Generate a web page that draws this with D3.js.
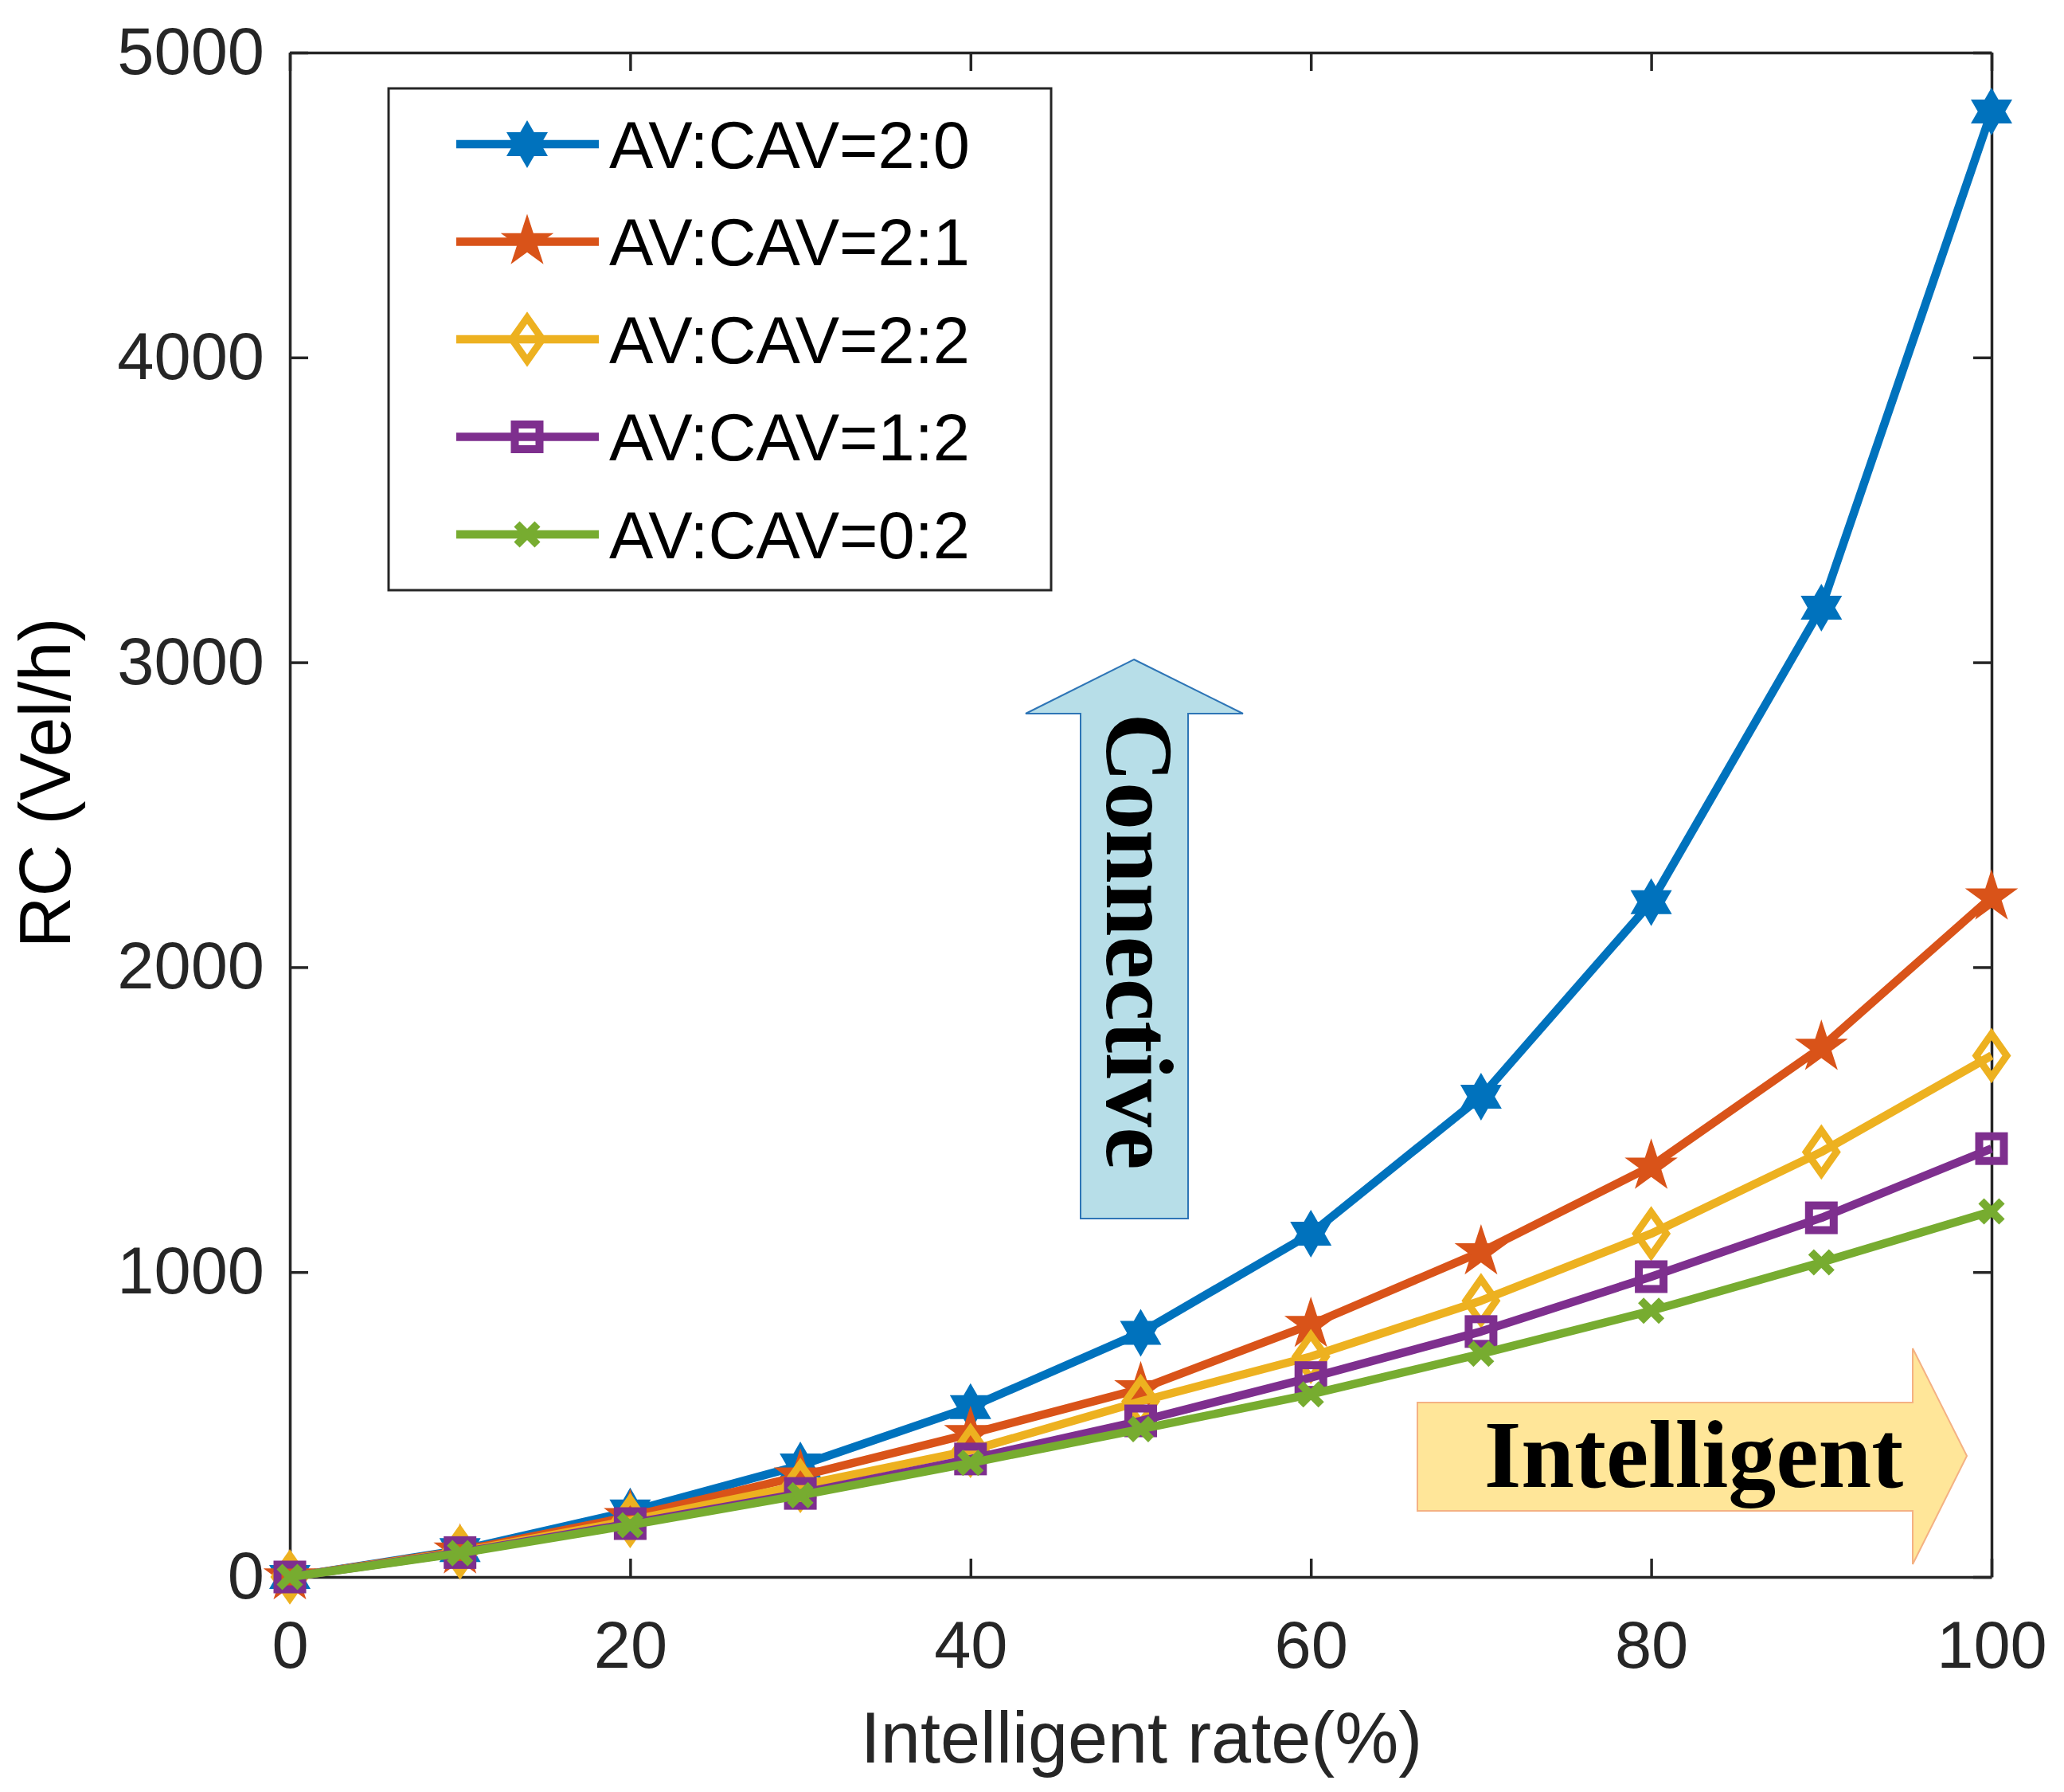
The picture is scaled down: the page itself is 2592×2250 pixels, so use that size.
<!DOCTYPE html>
<html>
<head>
<meta charset="utf-8">
<script src="https://cdn.jsdelivr.net/npm/d3@7"></script>
<style>
  body { margin: 0; background: #fff; }
  svg { display: block; }
</style>
</head>
<body>
<svg id="chart" width="2592" height="2250"></svg>
<script>
// intelligent rate (%)
const rates = [0, 10, 20, 30, 40, 50, 60, 70, 80, 90, 100];

// RC (Vel/h) per AV:CAV ratio
const rc20 = [0, 88, 215, 366, 557, 801, 1126, 1575, 2213, 3179, 4807];
const rc21 = [0, 85, 198, 331, 470, 617, 828, 1066, 1347, 1737, 2230];
const rc22 = [0, 82, 185, 300, 415, 576, 723, 906, 1126, 1394, 1710];
const rc12 = [0, 80, 175, 274, 387, 512, 654, 805, 985, 1178, 1405];
const rc02 = [0, 78, 170, 268, 374, 485, 599, 732, 873, 1032, 1199];

const seriesNames = ["AV:CAV=2:0", "AV:CAV=2:1", "AV:CAV=2:2", "AV:CAV=1:2", "AV:CAV=0:2"];
const xTicks = [0, 20, 40, 60, 80, 100];
const yTicks = [0, 1000, 2000, 3000, 4000, 5000];

const colors = ["#0072BD", "#D95319", "#EDB120", "#7E2F8E", "#77AC30"];
const markers = ["hexagram", "pentagram", "diamond", "square", "cross"];

const series = [rc20, rc21, rc22, rc12, rc02].map((vals, i) => ({
  name: seriesNames[i],
  color: colors[i],
  marker: markers[i],
  points: rates.map((r, j) => ({x: r, y: vals[j]}))
}));

const margin = {top: 66, right: 91, bottom: 270, left: 364};
const width = 2592 - margin.left - margin.right;
const height = 2250 - margin.top - margin.bottom;
const axisColor = "#262626";
const sans = "'Liberation Sans', Arial, Helvetica, sans-serif";
const serif = "'Liberation Serif', 'Times New Roman', serif";

const svg = d3.select("svg#chart");
const g = svg.append("g").attr("transform", `translate(${margin.left},${margin.top})`);

const x = d3.scaleLinear().domain([0, 100]).range([0, width]);
const y = d3.scaleLinear().domain([0, 5000]).range([height, 0]);

// marker shapes
function starPath(n, rOut, rIn) {
  const pts = [];
  for (let k = 0; k < 2 * n; k++) {
    const a = -Math.PI / 2 + k * Math.PI / n;
    const r = k % 2 === 0 ? rOut : rIn;
    pts.push([r * Math.cos(a), r * Math.sin(a)]);
  }
  return "M" + pts.map(p => p.join(",")).join("L") + "Z";
}
function hexagramPath(R) {
  const pts = [];
  for (let k = 0; k < 12; k++) {
    const a = -Math.PI / 2 + k * Math.PI / 6;
    const r = k % 2 === 0 ? R : R / Math.sqrt(3);
    pts.push([r * Math.cos(a), r * Math.sin(a)]);
  }
  return "M" + pts.map(p => p.join(",")).join("L") + "Z";
}

function drawMarker(sel, type, color) {
  if (type === "hexagram") {
    sel.append("path").attr("d", hexagramPath(30)).attr("fill", color);
  } else if (type === "pentagram") {
    sel.append("path").attr("d", starPath(5, 35, 35 * 0.382)).attr("fill", color);
  } else if (type === "diamond") {
    sel.append("path").attr("d", "M0,-27L19,0L0,27L-19,0Z")
      .attr("fill", "none").attr("stroke", color).attr("stroke-width", 9);
  } else if (type === "square") {
    sel.append("rect").attr("x", -15.5).attr("y", -15.5).attr("width", 31).attr("height", 31)
      .attr("fill", "none").attr("stroke", color).attr("stroke-width", 10);
  } else if (type === "cross") {
    sel.append("path").attr("d", "M-13,-13L13,13M-13,13L13,-13")
      .attr("fill", "none").attr("stroke", color).attr("stroke-width", 10);
  }
}

// axes (ticks inward, box on)
const yAxis = g.append("g")
  .call(d3.axisLeft(y).tickValues(yTicks).tickFormat(d3.format("d"))
    .tickSizeInner(-23).tickSizeOuter(0).tickPadding(32));
const xAxis = g.append("g").attr("transform", `translate(0,${height})`)
  .call(d3.axisBottom(x).tickValues(xTicks).tickFormat(d3.format("d"))
    .tickSizeInner(-23).tickSizeOuter(0).tickPadding(55));
const topAxis = g.append("g")
  .call(d3.axisTop(x).tickValues(xTicks).tickSizeInner(-23).tickSizeOuter(0).tickFormat(""));
const rightAxis = g.append("g").attr("transform", `translate(${width},0)`)
  .call(d3.axisRight(y).tickValues(yTicks).tickSizeInner(-23).tickSizeOuter(0).tickFormat(""));

[yAxis, xAxis, topAxis, rightAxis].forEach(a => {
  a.select(".domain").attr("stroke", axisColor).attr("stroke-width", 3.5);
  a.selectAll(".tick line").attr("stroke", axisColor).attr("stroke-width", 3.5);
  a.selectAll(".tick text").attr("fill", axisColor)
    .style("font-family", sans).style("font-size", "83px");
});

// axis titles
g.append("text")
  .attr("x", width / 2 + 1).attr("y", 2213 - margin.top)
  .attr("text-anchor", "middle")
  .style("font-family", sans).style("font-size", "90px").attr("fill", axisColor)
  .text("Intelligent rate(%)");

g.append("text")
  .attr("transform", `translate(${88 - margin.left},${983 - margin.top}) rotate(-90)`)
  .attr("text-anchor", "middle")
  .style("font-family", sans).style("font-size", "90px").attr("fill", "#000")
  .text("RC (Vel/h)");

// annotation arrows
const connective = [[1424, 828], [1561, 896], [1492, 896], [1492, 1530],
  [1357, 1530], [1357, 896], [1288, 896]];
svg.append("polygon")
  .attr("points", connective.map(p => p.join(",")).join(" "))
  .attr("fill", "#B7DEE8").attr("stroke", "#2E75B6").attr("stroke-width", 2);
svg.append("text")
  .attr("transform", "translate(1390,1182) rotate(90)")
  .attr("text-anchor", "middle")
  .style("font-family", serif).style("font-weight", "bold").style("font-size", "120px")
  .attr("fill", "#000")
  .text("Connective");

const intelligent = [[1780, 1761], [2402, 1761], [2402, 1693], [2470, 1828],
  [2402, 1964], [2402, 1897], [1780, 1897]];
svg.append("polygon")
  .attr("points", intelligent.map(p => p.join(",")).join(" "))
  .attr("fill", "#FFE699").attr("stroke", "#F4B183").attr("stroke-width", 2);
svg.append("text")
  .attr("x", 2127).attr("y", 1867)
  .attr("text-anchor", "middle")
  .style("font-family", serif).style("font-weight", "bold").style("font-size", "120px")
  .attr("fill", "#000")
  .text("Intelligent");

// series
const line = d3.line().x(d => x(d.x)).y(d => y(d.y));
series.forEach(s => {
  const sg = g.append("g");
  sg.append("path").datum(s.points)
    .attr("d", line)
    .attr("fill", "none").attr("stroke", s.color).attr("stroke-width", 10.5)
    .attr("stroke-linejoin", "round");
  sg.selectAll("g.mk").data(s.points).join("g")
    .attr("class", "mk")
    .attr("transform", d => `translate(${x(d.x)},${y(d.y)})`)
    .each(function() { drawMarker(d3.select(this), s.marker, s.color); });
});

// legend
const legend = svg.append("g");
legend.append("rect")
  .attr("x", 488).attr("y", 111).attr("width", 832).attr("height", 630)
  .attr("fill", "#fff").attr("stroke", axisColor).attr("stroke-width", 3);
series.forEach((s, i) => {
  const ly = 181 + i * 122.5;
  legend.append("line")
    .attr("x1", 573).attr("x2", 752).attr("y1", ly).attr("y2", ly)
    .attr("stroke", s.color).attr("stroke-width", 10.5);
  drawMarker(legend.append("g").attr("transform", `translate(662,${ly})`), s.marker, s.color);
  legend.append("text")
    .attr("x", 765).attr("y", ly).attr("dy", "0.36em")
    .style("font-family", sans).style("font-size", "83px").attr("fill", "#000")
    .text(s.name);
});
</script>
</body>
</html>
